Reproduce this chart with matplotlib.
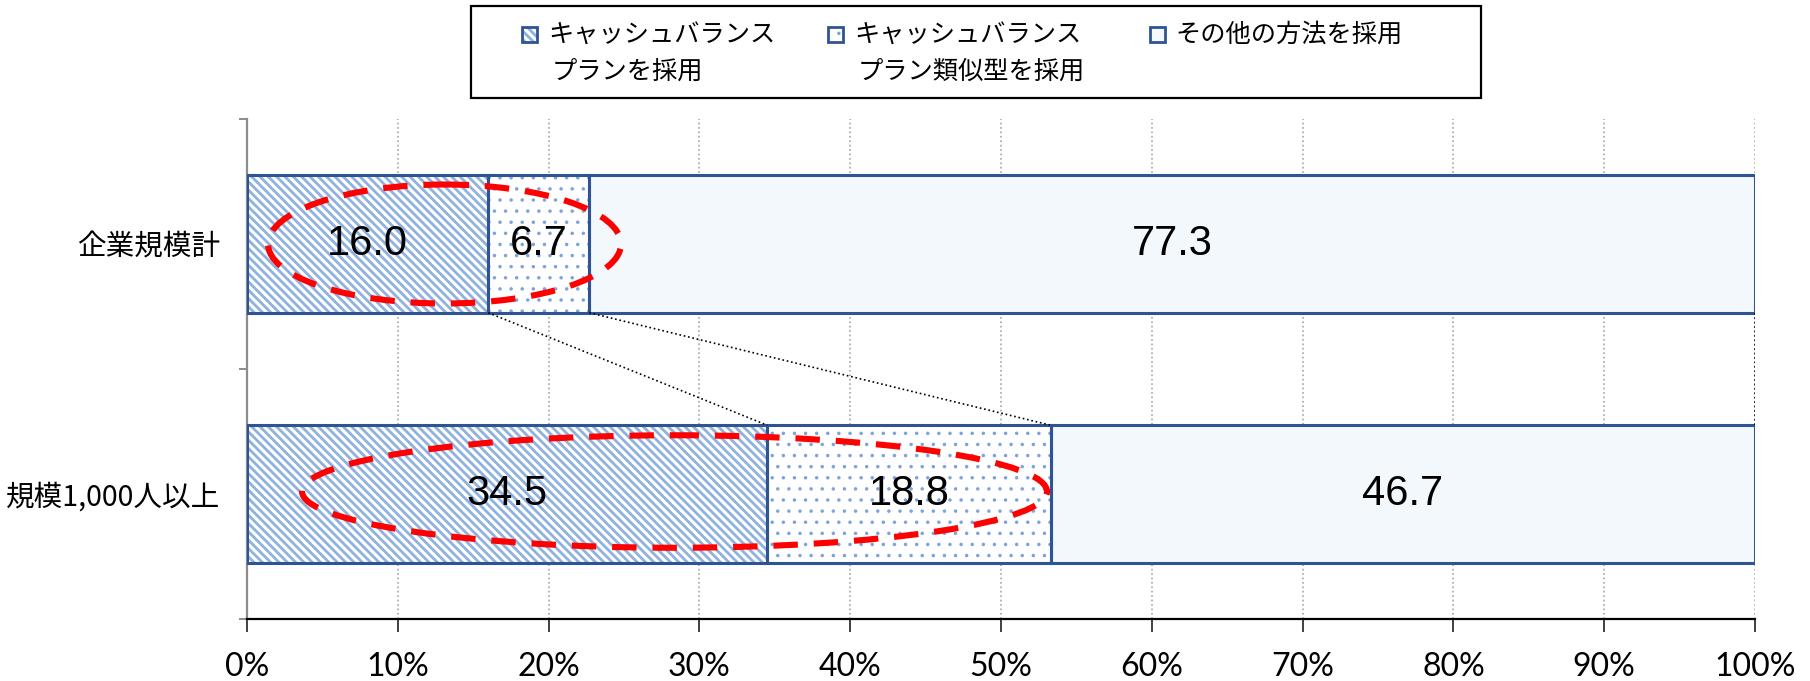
import numpy as np
import matplotlib
matplotlib.use('Agg')
import matplotlib.pyplot as plt
from matplotlib.patches import Ellipse, Rectangle

plt.rcParams['font.family'] = ['Noto Sans CJK JP', 'DejaVu Sans']

# data (%)
categories = ['企業規模計', '規模1,000人以上']
series_names = ['キャッシュバランス\nプランを採用',
                'キャッシュバランス\nプラン類似型を採用',
                'その他の方法を採用']
cash_balance = [16.0, 34.5]
cash_balance_like = [6.7, 18.8]
other_method = [77.3, 46.7]
x_ticks = list(range(0, 101, 10))
x_tick_labels = [f'{t}%' for t in x_ticks]

# styles
edge_col = '#2F5496'
hatch_cols = ['#8FB1E0', '#7FA3DA', None]
face_cols = ['white', 'white', '#F3F8FC']
hatches = ['\\' * 8, '...', None]
hatch_lw = [1.0, 0.45, 1.0]

DPI = 200
fig = plt.figure(figsize=(1810 / DPI, 681 / DPI), dpi=DPI)
W, H = 1810, 681
ax = fig.add_axes([247 / W, 1 - 619 / H, 1508 / W, 500 / H])

series = [cash_balance, cash_balance_like, other_method]
y = np.arange(len(categories))
bh = 0.55
left = np.zeros(len(categories))
lefts = []
for vals, hc, fc, ht, hl in zip(series, hatch_cols, face_cols, hatches, hatch_lw):
    vals = np.array(vals)
    # fill + hatch pass
    with plt.rc_context({'hatch.linewidth': hl}):
        ax.barh(y, vals, left=left, height=bh, color=fc,
                edgecolor=hc if hc else fc, hatch=ht, linewidth=0, zorder=2)
    # outline pass
    ax.barh(y, vals, left=left, height=bh, fill=False,
            edgecolor=edge_col, linewidth=1.1, zorder=3)
    for yi, l, v in zip(y, left, vals):
        ax.text(l + v / 2, yi, f'{v:.1f}', ha='center', va='center',
                fontsize=15, family=['Liberation Sans'], zorder=5)
    lefts.append(left.copy())
    left = left + vals

# series lines between the two bars
for k in range(1, len(series) + 1):
    xs = lefts[k][0] if k < len(series) else left[0]
    xe = lefts[k][1] if k < len(series) else left[1]
    ax.plot([xs, xe], [y[0] + bh / 2, y[1] - bh / 2], color='black',
            linestyle=':', linewidth=0.6, zorder=4)

# red dashed ellipses
for cx, cy, ew, eh in [(13.1, 0.0, 23.4, 0.476), (28.35, 0.99, 49.4, 0.45)]:
    ax.add_patch(Ellipse((cx, cy), ew, eh, fill=False, edgecolor='#FF0000',
                         linewidth=2.2, linestyle=(0, (4, 2.6)), zorder=6))

ax.set_xlim(0, 100)
ax.set_ylim(1.5, -0.5)
ax.set_xticks(x_ticks)
ax.set_xticklabels(x_tick_labels, fontsize=11.5, family=['Lato'])
ax.set_yticks([-0.5, 0.5, 1.5])
ax.set_yticklabels([])
ax.set_yticks(y, categories, minor=True)
ax.tick_params(axis='y', which='minor', length=0, pad=9.5, labelsize=10.3)
ax.tick_params(axis='y', which='major', length=2.9, width=0.7, color='#8C8C8C')
ax.tick_params(axis='x', length=4.7, width=0.7, color='#404040', pad=7)

ax.xaxis.grid(True, linestyle=':', color='#A6A6A6', linewidth=0.6)
ax.set_axisbelow(True)
for s in ['top', 'right']:
    ax.spines[s].set_visible(False)
ax.spines['left'].set_color('#8C8C8C')
ax.spines['left'].set_linewidth(0.8)
ax.spines['bottom'].set_color('black')
ax.spines['bottom'].set_linewidth(0.8)

# legend drawn by hand
fig.patches.append(Rectangle((471 / W, 1 - 98 / H), 1010 / W, 92 / H,
                             transform=fig.transFigure, fill=False,
                             edgecolor='black', linewidth=0.8))
marker_x = [522, 828, 1150]
text_x = [548, 854, 1175]
for mx, tx, name, hc, fc, ht, hl in zip(marker_x, text_x, series_names,
                                         hatch_cols, face_cols, hatches, hatch_lw):
    with plt.rc_context({'hatch.linewidth': hl}):
        fig.patches.append(Rectangle((mx / W, 1 - 42 / H), 15 / W, 15 / H,
                                     transform=fig.transFigure, facecolor=fc,
                                     edgecolor=hc if hc else fc, hatch=ht,
                                     linewidth=0))
    fig.patches.append(Rectangle((mx / W, 1 - 42 / H), 15 / W, 15 / H,
                                 transform=fig.transFigure, fill=False,
                                 edgecolor=edge_col, linewidth=1.0))
    for i, line in enumerate(name.split('\n')):
        fig.text((tx + 4 * i) / W, 1 - (35 + 37 * i) / H, line,
                 ha='left', va='center', fontsize=9.1)

fig.savefig('out.png', dpi=DPI)
